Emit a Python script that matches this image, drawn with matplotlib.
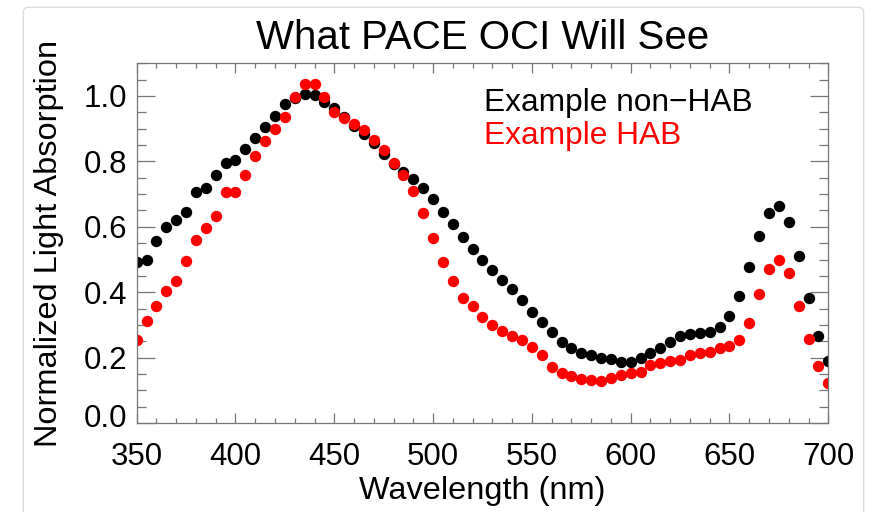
import matplotlib
matplotlib.use('Agg')
import matplotlib.pyplot as plt
from matplotlib.patches import FancyBboxPatch
from matplotlib.ticker import MultipleLocator
import matplotlib.transforms as mtransforms
import numpy as np

wavelength = np.arange(350, 705, 5)

non_hab = [0.493, 0.498, 0.557, 0.598, 0.621, 0.644, 0.705, 0.719, 0.759, 0.796,
           0.804, 0.837, 0.871, 0.906, 0.939, 0.975, 0.995, 1.005, 1.003, 0.983,
           0.964, 0.935, 0.908, 0.884, 0.855, 0.823, 0.792, 0.769, 0.745, 0.718,
           0.684, 0.644, 0.609, 0.568, 0.531, 0.498, 0.468, 0.437, 0.409, 0.376,
           0.340, 0.310, 0.279, 0.249, 0.228, 0.215, 0.208, 0.199, 0.196, 0.188,
           0.188, 0.198, 0.213, 0.228, 0.249, 0.266, 0.272, 0.274, 0.279, 0.293,
           0.327, 0.389, 0.478, 0.573, 0.643, 0.665, 0.616, 0.511, 0.383, 0.266,
           0.190]

hab = [0.254, 0.313, 0.358, 0.404, 0.435, 0.495, 0.560, 0.595, 0.633, 0.706,
       0.707, 0.758, 0.817, 0.863, 0.898, 0.935, 0.996, 1.036, 1.038, 0.998,
       0.952, 0.932, 0.914, 0.896, 0.865, 0.835, 0.796, 0.758, 0.709, 0.643,
       0.565, 0.493, 0.435, 0.383, 0.358, 0.325, 0.300, 0.282, 0.266, 0.254,
       0.231, 0.208, 0.170, 0.154, 0.144, 0.134, 0.131, 0.130, 0.137, 0.147,
       0.152, 0.157, 0.177, 0.185, 0.191, 0.193, 0.208, 0.213, 0.218, 0.228,
       0.235, 0.254, 0.307, 0.394, 0.471, 0.498, 0.458, 0.359, 0.256, 0.174,
       0.123]

plt.rcParams['font.family'] = ['Liberation Sans', 'DejaVu Sans']
axis_color = '#777777'

fig = plt.figure(figsize=(8.79, 5.12), dpi=100)

# light card border around the plot
card = FancyBboxPatch((0.0265, -0.05), 0.956, 1.0357,
                      boxstyle='round,pad=0,rounding_size=0.006',
                      mutation_aspect=879 / 512,
                      transform=fig.transFigure, facecolor='none',
                      edgecolor='#dcdcdc', linewidth=1.0, zorder=-10)
fig.patches.append(card)

ax = fig.add_axes([0.1555, 0.1738, 0.7868, 0.7026])
ax.patch.set_alpha(0)
ax.plot(wavelength, non_hab, 'o', color='black', ms=8.2, mew=0)
ax.plot(wavelength, hab, 'o', color='red', ms=8.2, mew=0)

ax.set_xlim(350, 700)
ax.set_ylim(0, 1.1)
ax.xaxis.set_major_locator(MultipleLocator(50))
ax.xaxis.set_minor_locator(MultipleLocator(10))
ax.yaxis.set_major_locator(MultipleLocator(0.2))
ax.yaxis.set_minor_locator(MultipleLocator(0.05))
ax.set_yticks([0.0, 0.2, 0.4, 0.6, 0.8, 1.0])
ax.set_yticklabels(['0.0', '0.2', '0.4', '0.6', '0.8', '1.0'])

for s in ax.spines.values():
    s.set_color(axis_color)
    s.set_linewidth(0.9)

ax.tick_params(which='both', direction='in', top=True, right=True,
               color=axis_color, width=0.9, labelsize=22.5)
ax.tick_params(axis='x', which='major', length=7.5, pad=13.5)
ax.tick_params(axis='x', which='minor', length=3.5)
ax.tick_params(axis='y', which='major', length=13, pad=6.8)
ax.tick_params(axis='y', which='minor', length=6.5)

# the 0.0 label sits a bit above its tick in the original
lab0 = ax.get_yticklabels()[0]
lab0.set_transform(lab0.get_transform() +
                   mtransforms.ScaledTranslation(0, 8 / 100, fig.dpi_scale_trans))

ax.set_xlabel('Wavelength (nm)', fontsize=23.4)
ax.xaxis.set_label_coords(0.5, -0.147)
ax.set_ylabel('Normalized Light Absorption', fontsize=23.4)
ax.yaxis.set_label_coords(-0.1057, 0.5)

fig.text(0.549, 0.904, 'What PACE OCI Will See', fontsize=29,
         ha='center', va='baseline')

ax.text(0.502, 0.867, 'Example non\u2212HAB', transform=ax.transAxes,
        fontsize=22.8, color='black', va='baseline')
ax.text(0.502, 0.777, 'Example HAB', transform=ax.transAxes,
        fontsize=22.8, color='red', va='baseline')

fig.savefig('out.png', dpi=100)
